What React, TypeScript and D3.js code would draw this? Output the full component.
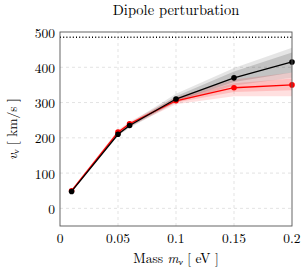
import React, { useEffect, useRef } from 'react';
import * as d3 from 'd3';

// neutrino mass [eV]
const masses = [0.01, 0.05, 0.06, 0.1, 0.15, 0.2];
// velocities [km/s]
const blackVel = [48, 210, 235, 310, 370, 415];
const redVel = [50, 216, 240, 305, 342, 350];
// uncertainty bands (outer / inner)
const blackOuterLo = [45, 205, 228, 300, 348, 370];
const blackOuterHi = [52, 215, 242, 325, 398, 455];
const blackInnerLo = [47, 207, 231, 304, 358, 385];
const blackInnerHi = [50, 213, 239, 318, 388, 442];
const redOuterLo = [46, 208, 232, 295, 318, 318];
const redOuterHi = [54, 222, 246, 315, 365, 385];
const redInnerLo = [48, 212, 236, 300, 330, 335];
const redInnerHi = [52, 219, 243, 310, 355, 368];
const limitVel = 485;
const xTicks = [0, 0.05, 0.1, 0.15, 0.2];
const yTicks = [0, 100, 200, 300, 400, 500];

const W = 306;
const H = 272;
const margin = { top: 32, right: 14, bottom: 46, left: 60 };

export default function App() {
	const ref = useRef<SVGSVGElement>(null);

	useEffect(() => {
		const svg = d3.select(ref.current);
		svg.selectAll('*').remove();
		const font = '"Latin Modern Roman", "Liberation Serif", serif';
		const fs = 13.5;

		// plot area
		const x = d3.scaleLinear().domain([0, 0.2]).range([margin.left, W - margin.right]);
		const y = d3.scaleLinear().domain([-50, 500]).range([H - margin.bottom, margin.top]);

		// grid
		const grid = svg.append('g');
		xTicks.slice(1, -1).forEach(t => {
			grid.append('line')
				.attr('x1', x(t)).attr('x2', x(t))
				.attr('y1', y(-50)).attr('y2', y(500))
				.attr('stroke', '#dcdcdc').attr('stroke-dasharray', '3,3').attr('stroke-width', 0.8);
		});
		yTicks.slice(0, -1).forEach(t => {
			grid.append('line')
				.attr('x1', x(0)).attr('x2', x(0.2))
				.attr('y1', y(t)).attr('y2', y(t))
				.attr('stroke', '#dcdcdc').attr('stroke-dasharray', '3,3').attr('stroke-width', 0.8);
		});

		const area = (lo: number[], hi: number[]) =>
			d3.area<number>()
				.x((d, i) => x(masses[i]))
				.y0((d, i) => y(lo[i]))
				.y1((d, i) => y(hi[i]))(masses);

		const line = (v: number[]) =>
			d3.line<number>().x((d, i) => x(masses[i])).y(d => y(d))(v);

		// bands
		svg.append('path').attr('d', area(blackOuterLo, blackOuterHi)).attr('fill', '#000').attr('opacity', 0.1);
		svg.append('path').attr('d', area(blackInnerLo, blackInnerHi)).attr('fill', '#000').attr('opacity', 0.15);
		svg.append('path').attr('d', area(redOuterLo, redOuterHi)).attr('fill', '#ff0000').attr('opacity', 0.12);
		svg.append('path').attr('d', area(redInnerLo, redInnerHi)).attr('fill', '#ff0000').attr('opacity', 0.15);

		// limit
		svg.append('line')
			.attr('x1', x(0)).attr('x2', x(0.2))
			.attr('y1', y(limitVel)).attr('y2', y(limitVel))
			.attr('stroke', '#000').attr('stroke-width', 1.4).attr('stroke-dasharray', '1,2.2');

		// series
		const series: [number[], string][] = [[redVel, '#ff0000'], [blackVel, '#000']];
		series.forEach(([v, c]) => {
			svg.append('path').attr('d', line(v)).attr('fill', 'none').attr('stroke', c).attr('stroke-width', 1.3);
			svg.append('g').selectAll('circle').data(v).enter().append('circle')
				.attr('cx', (d, i) => x(masses[i]))
				.attr('cy', d => y(d))
				.attr('r', 2.8)
				.attr('fill', c);
		});

		// frame
		svg.append('rect')
			.attr('x', x(0)).attr('y', y(500))
			.attr('width', x(0.2) - x(0)).attr('height', y(-50) - y(500))
			.attr('fill', 'none').attr('stroke', '#555').attr('stroke-width', 0.9);

		// tick labels
		svg.append('g').selectAll('text').data(xTicks).enter().append('text')
			.text(d => String(d))
			.attr('x', d => x(d)).attr('y', H - margin.bottom + 17)
			.attr('text-anchor', 'middle')
			.attr('font-family', font).attr('font-size', fs);
		svg.append('g').selectAll('text').data(yTicks).enter().append('text')
			.text(d => String(d))
			.attr('x', margin.left - 5).attr('y', d => y(d))
			.attr('dominant-baseline', 'central')
			.attr('text-anchor', 'end')
			.attr('font-family', font).attr('font-size', fs);

		// title
		svg.append('text').text('Dipole perturbation')
			.attr('x', (x(0) + x(0.2)) / 2).attr('y', 15)
			.attr('text-anchor', 'middle')
			.attr('font-family', font).attr('font-size', 14.5);

		// x label
		const xl = svg.append('text')
			.attr('x', (x(0) + x(0.2)) / 2).attr('y', H - 9)
			.attr('text-anchor', 'middle')
			.attr('font-family', font).attr('font-size', fs);
		xl.append('tspan').text('Mass ');
		xl.append('tspan').text('m').attr('font-style', 'italic');
		xl.append('tspan').text('ν').attr('font-style', 'italic').attr('font-size', 9).attr('dy', 2);
		xl.append('tspan').text(' [ eV ]').attr('dy', -2);

		// y label
		const yl = svg.append('text')
			.attr('transform', `translate(17,${(y(-50) + y(500)) / 2}) rotate(-90)`)
			.attr('text-anchor', 'middle')
			.attr('font-family', font).attr('font-size', fs);
		yl.append('tspan').text('v').attr('font-style', 'italic');
		yl.append('tspan').text('ν').attr('font-style', 'italic').attr('font-size', 9).attr('dy', 2);
		yl.append('tspan').text(' [ km/s ]').attr('dy', -2);
	}, []);

	return (
		<svg ref={ref} width={W} height={H} style={{ position: 'absolute', left: 0, top: 0 }} />
	);
}
